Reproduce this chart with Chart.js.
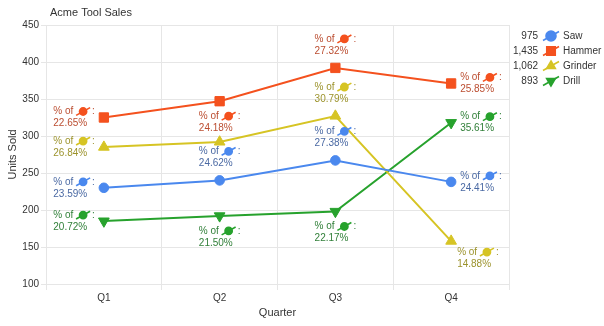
<!DOCTYPE html>
<html>
<head>
<meta charset="utf-8">
<title>Acme Tool Sales</title>
<script src="https://cdn.jsdelivr.net/npm/chart.js@4.4.1/dist/chart.umd.min.js"></script>
<style>
    html, body { margin: 0; padding: 0; background: #fff; }
    #wrap { width: 604px; height: 326px; position: relative; }
</style>
</head>
<body>
<div id="wrap"><canvas id="salesChart"></canvas></div>
<script>
// Data
const quarters = ['Q1', 'Q2', 'Q3', 'Q4'];
const seriesNames = ['Saw', 'Hammer', 'Grinder', 'Drill'];
const sawUnits = [230, 240, 267, 238];
const hammerUnits = [325, 347, 392, 371];
const grinderUnits = [285, 292, 327, 158];
const drillUnits = [185, 192, 198, 318];
const yMin = 100;
const yMax = 450;
const yStep = 50;

const FONT = "'Liberation Sans', Arial, sans-serif";

// Look of each series
const seriesStyle = [
    { color: '#4a88ee', text: '#4a69a3', marker: 'circle', radius: 4.8, rotation: 0 },
    { color: '#f4511e', text: '#bb4d30', marker: 'rect', radius: 6.6, rotation: 0 },
    { color: '#d6c424', text: '#9c932c', marker: 'triangle', radius: 6.2, rotation: 0 },
    { color: '#27a22d', text: '#32803a', marker: 'triangle', radius: 6.2, rotation: 180 }
];

// Where each point label sits (null = hidden)
const labelPlacement = [
    ['left', 'top', 'top', 'right'],
    ['left', 'bottom', 'top', 'right'],
    ['left', null, 'top', 'bottomright'],
    ['left', 'bottom', 'bottom', 'right']
];

const allUnits = [sawUnits, hammerUnits, grinderUnits, drillUnits];
const totals = allUnits.map(arr => arr.reduce((a, b) => a + b, 0));

function drawIcon(ctx, x, y, len, style, pointStyle, radius, rotation) {
    ctx.save();
    ctx.strokeStyle = style.color;
    ctx.fillStyle = style.color;
    ctx.lineWidth = 1.6;
    ctx.beginPath();
    ctx.moveTo(x, y + len * 0.28);
    ctx.lineTo(x + len, y - len * 0.28);
    ctx.stroke();
    Chart.helpers.drawPoint(ctx, { pointStyle: pointStyle, radius: radius, rotation: rotation, borderWidth: 1 }, x + len / 2, y);
    ctx.restore();
}

const labelsPlugin = {
    id: 'pctLabels',
    afterDatasetsDraw(chart) {
        const ctx = chart.ctx;
        ctx.save();
        ctx.font = '10px ' + FONT;
        ctx.textBaseline = 'middle';
        ctx.textAlign = 'left';
        chart.data.datasets.forEach((ds, di) => {
            const meta = chart.getDatasetMeta(di);
            const st = seriesStyle[di];
            meta.data.forEach((pt, i) => {
                const place = labelPlacement[di][i];
                if (!place) return;
                const pct = (ds.data[i] / totals[di] * 100).toFixed(2) + '%';
                const pre = '% of ';
                const iconW = 15;
                const w1 = ctx.measureText(pre).width + iconW + 1 + ctx.measureText(':').width;
                let left, y1;
                if (place === 'left') { left = pt.x - 9 - w1; y1 = pt.y - 6; }
                else if (place === 'right') { left = pt.x + 9; y1 = pt.y - 6; }
                else if (place === 'top') { left = pt.x - w1 / 2; y1 = pt.y - 29; }
                else if (place === 'bottom') { left = pt.x - w1 / 2; y1 = pt.y + 15; }
                else { left = pt.x + 6; y1 = pt.y + 11; }
                const y2 = y1 + 12;
                ctx.fillStyle = st.text;
                ctx.fillText(pre, left, y1);
                const ix = left + ctx.measureText(pre).width;
                drawIcon(ctx, ix, y1, iconW - 1, st, 'circle', 3.6, 0);
                ctx.fillStyle = st.text;
                ctx.fillText(':', ix + iconW + 1, y1);
                ctx.fillText(pct, left, y2);
            });
        });
        ctx.restore();
    }
};

const legendPlugin = {
    id: 'sideLegend',
    afterDraw(chart) {
        const ctx = chart.ctx;
        ctx.save();
        ctx.font = '10px ' + FONT;
        ctx.textBaseline = 'middle';
        seriesNames.forEach((name, i) => {
            const y = 36 + i * 15;
            const st = seriesStyle[i];
            ctx.fillStyle = '#333';
            ctx.textAlign = 'right';
            ctx.fillText(totals[i].toLocaleString('en-US'), 538, y);
            drawIcon(ctx, 543, y, 16, st, st.marker, st.marker === 'rect' ? 6 : 5, st.rotation);
            ctx.fillStyle = '#333';
            ctx.textAlign = 'left';
            ctx.fillText(name, 563, y);
        });
        // title
        ctx.font = '11px ' + FONT;
        ctx.fillStyle = '#333';
        ctx.textAlign = 'left';
        ctx.fillText('Acme Tool Sales', 50, 13);
        ctx.restore();
    }
};

const datasets = allUnits.map((arr, i) => ({
    label: seriesNames[i],
    data: arr,
    borderColor: seriesStyle[i].color,
    backgroundColor: seriesStyle[i].color,
    borderWidth: 2,
    pointStyle: seriesStyle[i].marker,
    pointRadius: seriesStyle[i].radius,
    pointRotation: seriesStyle[i].rotation,
    pointBorderWidth: 1,
    tension: 0
}));

new Chart(document.getElementById('salesChart'), {
    type: 'line',
    data: { labels: quarters, datasets: datasets },
    options: {
        responsive: true,
        maintainAspectRatio: false,
        animation: false,
        layout: { padding: { top: 25, right: 95, left: 0, bottom: 0 } },
        plugins: {
            legend: { display: false },
            tooltip: { enabled: false },
            title: { display: false }
        },
        scales: {
            x: {
                offset: true,
                afterFit: s => { s.height = 42; },
                grid: { offset: true, color: '#e6e6e6', tickLength: 6, drawTicks: true },
                border: { color: '#e6e6e6' },
                ticks: { color: '#333', font: { family: FONT, size: 10 }, padding: 2 },
                title: { display: true, text: 'Quarter', color: '#333', font: { family: FONT, size: 11 }, padding: { top: 0, bottom: 6 } }
            },
            y: {
                min: yMin,
                max: yMax,
                afterFit: s => { s.width = 46; },
                grid: { color: '#e6e6e6', tickLength: 5 },
                border: { color: '#e6e6e6' },
                ticks: { stepSize: yStep, color: '#333', font: { family: FONT, size: 10 }, padding: 2 },
                title: { display: true, text: 'Units Sold', color: '#333', font: { family: FONT, size: 11 }, padding: { top: 6, bottom: 2 } }
            }
        }
    },
    plugins: [labelsPlugin, legendPlugin]
});
</script>
</body>
</html>
